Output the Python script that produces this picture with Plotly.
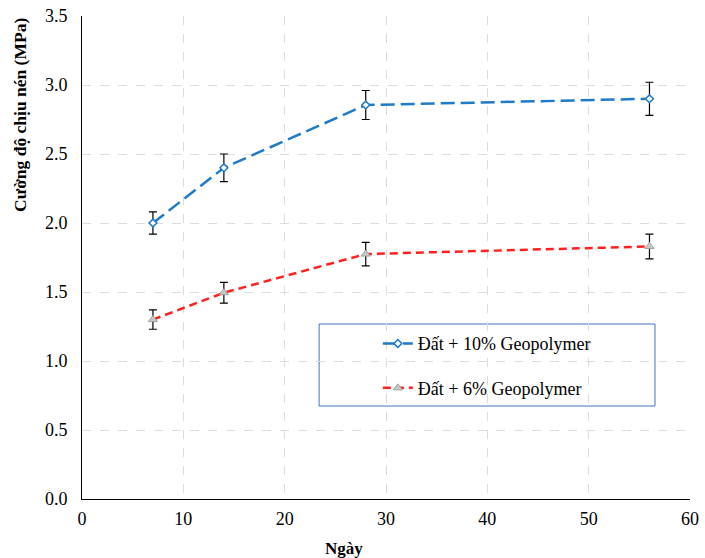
import plotly.graph_objects as go

days = [7, 14, 28, 56]
geo10 = [2.00, 2.40, 2.855, 2.90]
geo10_err = [0.08, 0.10, 0.105, 0.12]
geo6 = [1.30, 1.495, 1.775, 1.83]
geo6_err = [0.07, 0.075, 0.085, 0.09]
names = ["Đất + 10% Geopolymer", "Đất + 6% Geopolymer"]

serif = "Liberation Serif, Times New Roman, serif"

fig = go.Figure()
fig.add_trace(go.Scatter(
    x=days, y=geo10, name=names[0], mode="lines+markers", legendgroup="a",
    line=dict(color="#1f7ac8", width=2.5, dash="14px,6px"),
    marker=dict(symbol="diamond", size=6, color="white", line=dict(color="#1f7ac8", width=1.5)),
    error_y=dict(type="data", array=geo10_err, color="black", thickness=1.2, width=4),
))
fig.add_trace(go.Scatter(
    x=days, y=geo6, name=names[1], mode="lines+markers", legendgroup="b",
    line=dict(color="#ff2020", width=2.5, dash="8px,5px"),
    marker=dict(symbol="triangle-up", size=8, color="#c8c8c8", line=dict(color="#a0a0a0", width=1)),
    error_y=dict(type="data", array=geo6_err, color="black", thickness=1.2, width=4),
))

fig.add_shape(type="rect", xref="paper", yref="paper", x0=0.39, x1=0.9424, y0=0.1925, y1=0.3623,
              line=dict(color="#4472c4", width=1), fillcolor="white", layer="below")

fig.add_annotation(text="<b>Cường độ chịu nén (MPa)</b>", xref="paper", yref="paper",
                   x=-0.102, y=0.795, textangle=-90, showarrow=False,
                   xanchor="center", yanchor="middle", font=dict(family=serif, size=17.5))
fig.add_annotation(text="<b>Ngày</b>", xref="paper", yref="paper",
                   x=0.431, y=-0.1015, showarrow=False, xanchor="center", yanchor="middle",
                   font=dict(family=serif, size=17))

fig.update_layout(
    width=705, height=558,
    margin=dict(l=82, r=15, t=16, b=59),
    plot_bgcolor="white", paper_bgcolor="white",
    font=dict(family=serif, size=18, color="black"),
    showlegend=True,
    legend=dict(x=0.4866, y=0.3597, xanchor="left", yanchor="top", bgcolor="rgba(0,0,0,0)",
                font=dict(family=serif, size=18), tracegroupgap=18, itemwidth=30),
    xaxis=dict(range=[0, 60], dtick=10, showgrid=True, gridcolor="#dcdcdc", griddash="dash",
               showline=True, linecolor="black", linewidth=1, ticks="", zeroline=False,
               automargin=False, ticklabelstandoff=3, tickfont=dict(family=serif, size=18)),
    yaxis=dict(range=[0, 3.5], dtick=0.5, tickformat=".1f", showgrid=True, gridcolor="#dcdcdc",
               griddash="dash", showline=True, linecolor="black", linewidth=1, ticks="",
               zeroline=False, automargin=False, ticklabelstandoff=10,
               tickfont=dict(family=serif, size=18)),
)

fig.write_html("out.html", config={"displayModeBar": False},
               post_script="document.body.style.margin='0';document.body.style.padding='0';document.body.style.overflow='hidden';")
